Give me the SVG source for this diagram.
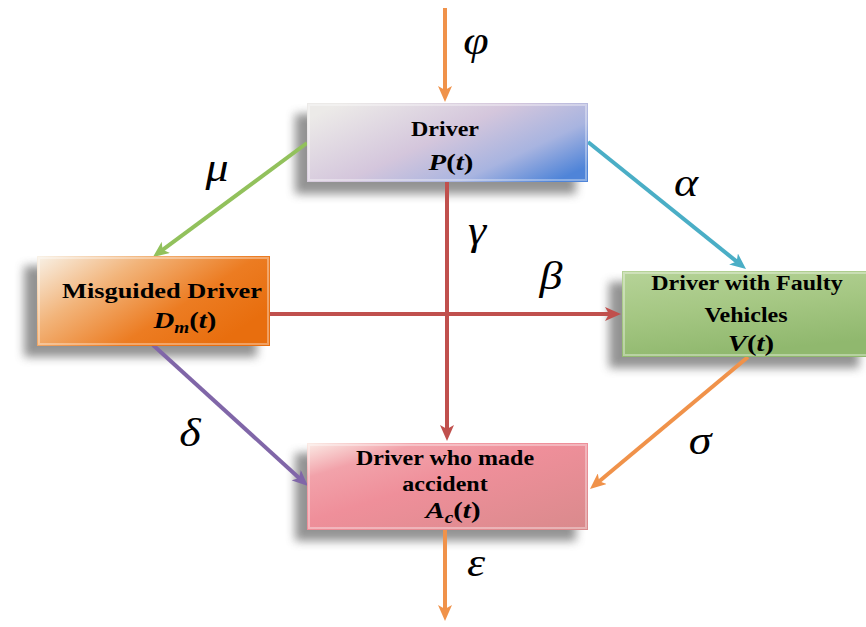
<svg xmlns="http://www.w3.org/2000/svg" width="866" height="627" viewBox="0 0 866 627">
<style>
.lbl{font-family:"Liberation Serif","Times New Roman",serif;font-weight:bold;font-size:20px;fill:#000;text-anchor:middle}
.m{font-family:"Liberation Serif","Times New Roman",serif;font-weight:bold;font-size:24px;fill:#000;text-anchor:middle}
.g{font-family:"Liberation Serif","Times New Roman",serif;font-style:italic;font-size:40px;fill:#000;text-anchor:middle}
.i{font-style:italic}
.shadow{fill:#6f6f6f;opacity:0.75;filter:url(#blur)}
.bevel{fill:none;stroke:#fff;stroke-opacity:0.35;stroke-width:2}
.ln{fill:none;stroke-width:4}
</style>
<defs>
<filter id="blur" x="-20%" y="-30%" width="140%" height="160%"><feGaussianBlur stdDeviation="5"/></filter>
<linearGradient id="gDriver" x1="0" y1="0.2" x2="1" y2="0.8">
<stop offset="0" stop-color="#eceae8"/><stop offset="0.45" stop-color="#d4c6dc"/><stop offset="0.75" stop-color="#a8b4e0"/><stop offset="1" stop-color="#4f84d8"/>
</linearGradient>
<linearGradient id="gMis" x1="0" y1="0" x2="1" y2="0.6">
<stop offset="0" stop-color="#f8f2e8"/><stop offset="0.35" stop-color="#f2b47a"/><stop offset="0.7" stop-color="#ec7c22"/><stop offset="1" stop-color="#e86e0e"/>
</linearGradient>
<linearGradient id="gFault" x1="0" y1="0" x2="0.3" y2="1">
<stop offset="0" stop-color="#b6d398"/><stop offset="0.5" stop-color="#a5c783"/><stop offset="1" stop-color="#90b86e"/>
</linearGradient>
<linearGradient id="gAcc" x1="0" y1="0" x2="1" y2="1">
<stop offset="0" stop-color="#fbece6"/><stop offset="0.2" stop-color="#f2a2aa"/><stop offset="0.45" stop-color="#ef8f9a"/><stop offset="1" stop-color="#d98a8c"/>
</linearGradient>
<marker id="aOr" markerUnits="userSpaceOnUse" markerWidth="16" markerHeight="14" refX="7" refY="7" orient="auto"><path d="M0,0 L16,7 L0,14 L4,7 Z" fill="#f0924a"/></marker>
<marker id="aGr" markerUnits="userSpaceOnUse" markerWidth="16" markerHeight="14" refX="7" refY="7" orient="auto"><path d="M0,0 L16,7 L0,14 L4,7 Z" fill="#92c15c"/></marker>
<marker id="aTe" markerUnits="userSpaceOnUse" markerWidth="16" markerHeight="14" refX="7" refY="7" orient="auto"><path d="M0,0 L16,7 L0,14 L4,7 Z" fill="#4aaec6"/></marker>
<marker id="aRe" markerUnits="userSpaceOnUse" markerWidth="16" markerHeight="14" refX="7" refY="7" orient="auto"><path d="M0,0 L16,7 L0,14 L4,7 Z" fill="#c0504d"/></marker>
<marker id="aPu" markerUnits="userSpaceOnUse" markerWidth="16" markerHeight="14" refX="7" refY="7" orient="auto"><path d="M0,0 L16,7 L0,14 L4,7 Z" fill="#8066a8"/></marker>
</defs>
<rect width="866" height="627" fill="#fff"/>

<g id="shadows">
<rect class="shadow" x="295" y="114" width="281" height="80"/>
<rect class="shadow" x="24" y="266" width="233" height="91"/>
<rect class="shadow" x="609" y="282" width="250" height="86"/>
<rect class="shadow" x="295" y="453" width="281" height="88"/>
</g>

<g id="connectors">
<path class="ln" d="M445,8 L445,93" stroke="#f0924a" marker-end="url(#aOr)"/>
<path class="ln" d="M307,143 L160.2,251.6" stroke="#92c15c" marker-end="url(#aGr)"/>
<path class="ln" d="M588,142 L739,263.4" stroke="#4aaec6" marker-end="url(#aTe)"/>
<path class="ln" d="M447,182 L447,432" stroke="#c0504d" marker-end="url(#aRe)"/>
<path class="ln" d="M270,314 L612,314" stroke="#c0504d" marker-end="url(#aRe)"/>
<path class="ln" d="M153,345 L301.3,479.9" stroke="#8066a8" marker-end="url(#aPu)"/>
<path class="ln" d="M748,357 L596.9,483.2" stroke="#f0924a" marker-end="url(#aOr)"/>
<path class="ln" d="M445,530 L445,612" stroke="#f0924a" marker-end="url(#aOr)"/>
<text class="g" transform="translate(476,54) scale(1.15,1)">φ</text>
<text class="g" transform="translate(217,181) scale(1.15,1)">μ</text>
<text class="g" transform="translate(686,196) scale(1.15,1)">α</text>
<text class="g" transform="translate(477,244) scale(1.15,1)">γ</text>
<text class="g" transform="translate(551,289) scale(1.15,1)">β</text>
<text class="g" transform="translate(190,446) scale(1.15,1)">δ</text>
<text class="g" transform="translate(700,454) scale(1.15,1)">σ</text>
<text class="g" transform="translate(476,576) scale(1.15,1)">ε</text>
</g>

<g id="driver">
<rect x="307" y="103" width="281" height="79" fill="url(#gDriver)"/>
<rect class="bevel" x="309" y="105" width="277" height="75"/>
<text class="lbl" transform="translate(445,136) scale(1.2,1)">Driver</text>
<text class="m" transform="translate(451,170) scale(1.2,1)"><tspan class="i">P</tspan>(<tspan class="i">t</tspan>)</text>
</g>

<g id="misguided">
<rect x="37" y="256" width="233" height="90" fill="url(#gMis)"/>
<rect class="bevel" x="39" y="258" width="229" height="86"/>
<text class="lbl" style="font-size:22px" transform="translate(162,298) scale(1.2,1)">Misguided Driver</text>
<text class="m" transform="translate(185,328) scale(1.2,1)"><tspan class="i">D</tspan><tspan class="i" font-size="16" dy="5">m</tspan><tspan dy="-5">(</tspan><tspan class="i">t</tspan>)</text>
</g>

<g id="faulty">
<rect x="622" y="271" width="250" height="86" fill="url(#gFault)"/>
<rect class="bevel" x="624" y="273" width="246" height="82"/>
<text class="lbl" transform="translate(747,290) scale(1.2,1)">Driver with Faulty</text>
<text class="lbl" transform="translate(746,322) scale(1.2,1)">Vehicles</text>
<text class="m" transform="translate(751,351) scale(1.2,1)"><tspan class="i">V</tspan>(<tspan class="i">t</tspan>)</text>
</g>

<g id="accident">
<rect x="307" y="443" width="281" height="87" fill="url(#gAcc)"/>
<rect class="bevel" x="309" y="445" width="277" height="83"/>
<text class="lbl" transform="translate(445,465) scale(1.2,1)">Driver who made</text>
<text class="lbl" transform="translate(445,491) scale(1.2,1)">accident</text>
<text class="m" transform="translate(453,518) scale(1.2,1)"><tspan class="i">A</tspan><tspan class="i" font-size="16" dy="5">c</tspan><tspan dy="-5">(</tspan><tspan class="i">t</tspan>)</text>
</g>
</svg>
